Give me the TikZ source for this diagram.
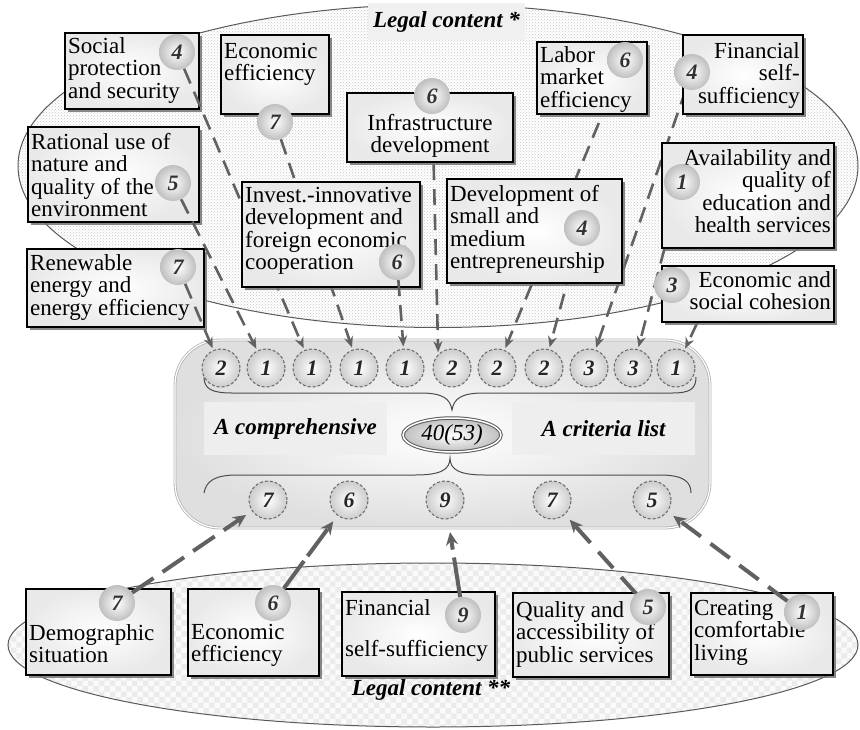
\documentclass[tikz,border=0pt]{standalone}
\usepackage{fontspec}
\setmainfont{Liberation Serif}
\usetikzlibrary{shapes.geometric,arrows.meta,patterns,shadows}
\pgfdeclarelayer{bg}\pgfdeclarelayer{boxA}\pgfdeclarelayer{arrA}\pgfdeclarelayer{boxB}\pgfdeclarelayer{arrC}
\pgfsetlayers{bg,boxA,arrA,boxB,arrC,main}
\newcommand\mkbox[5]{\node[boxst, minimum width={#4-#2}, minimum height={#5-#3}] (#1) at ({(#2+#4)/2},{(#3+#5)/2}) {};}
\tikzset{
 boxst/.style={rectangle, draw=black, line width=1.6pt, inner sep=0pt, outer sep=0pt, inner color=white, outer color=gray!17,
   drop shadow={shadow xshift=3pt, shadow yshift=-3pt, fill=black!55, opacity=0.85}},
 txt/.style={font=\fontsize{23}{22.5}\selectfont, inner sep=0pt, text=black},
 badge/.style={circle, minimum size=36pt, inner sep=0pt, inner color=white, outer color=gray!50, font=\fontsize{22}{22}\selectfont\bfseries\itshape, text=black!80},
 cir/.style={circle, minimum size=38pt, inner sep=0pt, draw=black!60, line width=1pt, dash pattern=on 3pt off 2pt, inner color=white, outer color=gray!40, font=\fontsize{22}{22}\selectfont\bfseries\itshape, text=black!85},
 arr/.style={draw=black!62, line width=2.6pt, dash pattern=on 16pt off 9pt, -{Stealth[length=11pt,width=9pt]}, shorten >=2pt},
 barr/.style={draw=black!62, line width=4pt, dash pattern=on 26pt off 11pt, -{Stealth[length=13pt,width=12pt]}, shorten >=7pt},
 lbl/.style={font=\fontsize{23}{23}\selectfont\bfseries\itshape, inner sep=0pt},
 brace/.style={draw=black!70, line width=1pt},
}
\begin{document}
\begin{tikzpicture}[x=1pt,y=-1pt]
\useasboundingbox (0,0) rectangle (860,729);
\begin{pgfonlayer}{bg}
 % top ellipse
 \path[fill=white] (438,166) ellipse [x radius=420, y radius=161.5];
 \path[pattern=crosshatch dots, pattern color=gray!45] (438,166) ellipse [x radius=420, y radius=161.5];
 \draw[black!65, line width=1pt] (438,166) ellipse [x radius=420, y radius=161.5];
 \node[lbl, fill=gray!12, minimum width=157, minimum height=37] (lc1) at (446.5,21.5) {Legal content *};
 % bottom ellipse
 \path[fill=gray!4] (433,645) ellipse [x radius=425, y radius=82];
 \path[pattern=checkerboard, pattern color=gray!16] (433,645) ellipse [x radius=425, y radius=82];
 \draw[black!65, line width=1pt] (433,645) ellipse [x radius=425, y radius=82];
 \node[lbl] (lc2) at (431,690) {Legal content **};
 % core
 \node[rectangle, rounded corners=45pt, draw=gray!60, double=white, double distance=1.2pt, line width=0.8pt,
   inner color=white, outer color=gray!25, minimum width=535, minimum height=188, inner sep=0pt] (core) at (442.5,434) {};
 \node[lbl, fill=gray!13, minimum width=183, minimum height=53] (acomp) at (295.5,428.5) {A comprehensive};
 \node[lbl, fill=gray!13, minimum width=183, minimum height=53] (acrit) at (603.5,428.5) {A criteria list};
 \node[ellipse, draw=black!65, double=white, double distance=1.5pt, line width=1pt, inner color=white, outer color=gray!50,
   minimum width=98, minimum height=34, inner sep=0pt, font=\fontsize{23}{23}\selectfont\itshape] (tot) at (452,435) {40(53)};
 \draw[brace] (204,377) .. controls (204,389) and (212,393) .. (232,393) -- (420,393)
   .. controls (442,393) and (450,398) .. (452,410) .. controls (454,398) and (462,393) .. (484,393)
   -- (672,393) .. controls (690,393) and (696,389) .. (696,377);
 \draw[brace] (204,493) .. controls (206,481) and (215,475) .. (237,475) -- (415,475)
   .. controls (440,475) and (450,470) .. (450,458) .. controls (450,470) and (460,475) .. (485,475)
   -- (660,475) .. controls (684,475) and (691,482) .. (691,493);
 % circles
 \node[cir] (c1) at (221,368) {2};
 \node[cir] (c2) at (266,368) {1};
 \node[cir] (c3) at (312,368) {1};
 \node[cir] (c4) at (359,368) {1};
 \node[cir] (c5) at (405,368) {1};
 \node[cir] (c6) at (452,368) {2};
 \node[cir] (c7) at (497,368) {2};
 \node[cir] (c8) at (544,368) {2};
 \node[cir] (c9) at (589,368) {3};
 \node[cir] (c10) at (633,368) {3};
 \node[cir] (c11) at (676,368) {1};
 \node[cir] (d1) at (268,500) {7};
 \node[cir] (d2) at (349,500) {6};
 \node[cir] (d3) at (445,500) {9};
 \node[cir] (d4) at (552,500) {7};
 \node[cir] (d5) at (652,500) {5};
\end{pgfonlayer}

\begin{pgfonlayer}{boxA}
 \mkbox{soc}{65}{33}{199}{109}
 \node[txt, align=left, anchor=north west] (socT) at (68,37) {Social\\protection\\and security};
 \mkbox{eco}{221}{35}{329}{114}
 \node[txt, align=left, anchor=north west] (ecoT) at (224,43) {Economic\\efficiency};
 \mkbox{rat}{28}{127}{199}{222}
 \node[txt, align=left, anchor=north west] (ratT) at (31,133) {Rational use of\\nature and\\quality of the\\environment};
 \mkbox{ren}{27}{249}{204}{327}
 \node[txt, align=left, anchor=north west] (renT) at (30,254) {Renewable\\energy and\\energy efficiency};
\end{pgfonlayer}

\begin{pgfonlayer}{boxB}
 \mkbox{inv}{242}{182}{420}{287}
 \node[txt, align=left, anchor=north west] (invT) at (245,187) {Invest.-innovative\\development and\\foreign economic\\cooperation};
 \mkbox{dev}{447}{179}{622}{283}
 \node[txt, align=left, anchor=north west] (devT) at (450,185) {Development of\\small and\\medium\\entrepreneurship};
 \mkbox{inf}{347}{93}{513}{162}
 \node[txt, align=center, anchor=north] (infT) at (430,114) {Infrastructure\\development};
 \mkbox{lab}{537}{42}{647}{114}
 \node[txt, align=left, anchor=north west] (labT) at (540,46) {Labor\\market\\efficiency};
 \mkbox{fin}{683}{35}{803}{114}
 \node[txt, align=right, anchor=north east] (finT) at (800,42) {Financial\\self-\\sufficiency};
 \mkbox{ava}{662}{143}{834}{248}
 \node[txt, align=right, anchor=north east] (avaT) at (831,149) {Availability and\\quality of\\education and\\health services};
 \mkbox{coh}{662}{266}{834}{322}
 \node[txt, align=right, anchor=north east] (cohT) at (831,271) {Economic and\\social cohesion};
 \mkbox{dem}{26}{589}{171}{675}
 \node[txt, align=left, anchor=north west] (demT) at (29,624) {Demographic\\situation};
 \mkbox{eef}{188}{589}{319}{676}
 \node[txt, align=left, anchor=north west] (eefT) at (191,624) {Economic\\efficiency};
 \mkbox{fsf}{342}{592}{495}{676}
 \node[txt, align=left, anchor=north west] (fsfT) at (345,599) {Financial\\[19pt]self-sufficiency};
 \mkbox{qua}{513}{593}{669}{677}
 \node[txt, align=left, anchor=north west] (quaT) at (516,601) {Quality and\\accessibility of\\public services};
 \mkbox{cre}{691}{593}{833}{675}
 \node[txt, align=left, anchor=north west] (creT) at (694,600) {Creating\\comfortable\\living};
\end{pgfonlayer}

% badges
\node[badge] (socB) at (177,52) {4};
\node[badge] (ecoB) at (275,122) {7};
\node[badge] (infB) at (432,96) {6};
\node[badge] (labB) at (625,60) {6};
\node[badge] (finB) at (692,72) {4};
\node[badge] (ratB) at (173,183) {5};
\node[badge] (invB) at (397,262) {6};
\node[badge] (devB) at (582,228) {4};
\node[badge] (avaB) at (682,182) {1};
\node[badge] (cohB) at (672,285) {3};
\node[badge] (renB) at (178,267) {7};
\node[badge] (demB) at (117,603) {7};
\node[badge] (eefB) at (273,603) {6};
\node[badge] (fsfB) at (463,615) {9};
\node[badge] (quaB) at (648,607) {5};
\node[badge] (creB) at (802,612) {1};
\coordinate (cohS) at (708,300);

\begin{pgfonlayer}{arrA}
 \draw[arr] (renB) -- (c1);
 \draw[arr] (ratB) -- (c2);
 \draw[arr] (socB) -- (c3);
 \draw[arr] (ecoB) -- (c4);
 \draw[arr] (infB) -- (c6.north west);
 \draw[arr] (labB) -- (c7);
 \draw[arr] (devB) -- (c8);
 \draw[arr] (finB) -- (c9);
 \draw[arr] (avaB) -- (c10);
 \draw[arr] (cohS) -- (c11);
\end{pgfonlayer}
\begin{pgfonlayer}{arrC}
 \draw[arr] (invB) -- (c5);
 \draw[barr] (demB) -- (d1);
 \draw[barr, dash pattern=on 34pt off 6pt] (eefB) -- (d2);
 \draw[barr, dash pattern=on 40pt off 8pt, shorten >=13pt] (fsfB) -- (d3);
 \draw[barr, dash pattern=on 22pt off 12pt] (quaB) -- (d4);
 \draw[barr, dash pattern=on 24pt off 12pt] (creB) -- (d5);
\end{pgfonlayer}
\end{tikzpicture}
\end{document}
